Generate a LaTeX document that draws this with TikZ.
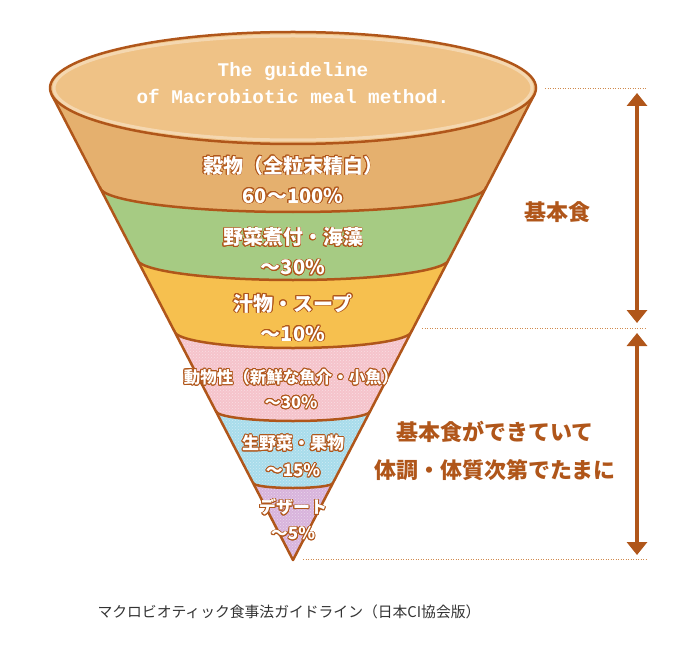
\documentclass[tikz,border=0pt]{standalone}
\usepackage{fontspec}
\setmainfont{Noto Sans CJK JP}
\newfontfamily\typefont{Liberation Mono}
\usepackage{contour}
\contourlength{0.9pt}
\usetikzlibrary{arrows.meta, patterns}

\definecolor{rimbrown}{HTML}{B0561A}
\definecolor{topfill}{HTML}{EFC286}
\definecolor{grainfill}{HTML}{E5B06E}
\definecolor{veggiefill}{HTML}{A6CB83}
\definecolor{soupfill}{HTML}{F6C04F}
\definecolor{animalfill}{HTML}{F5C3CB}
\definecolor{fruitfill}{HTML}{A8DCEB}
\definecolor{dessertfill}{HTML}{D8B4DC}
\definecolor{guidebrown}{HTML}{D08A4E}
\definecolor{captiongray}{HTML}{333333}

\newcommand{\rimtext}[1]{\contour{rimbrown}{#1}}

\tikzset{
  rim/.style={rimbrown, line width=2.5pt, line join=round, line cap=round},
  bandtext/.style={text=white, align=center, inner sep=0pt,
    font=\bfseries\fontsize{20}{30}\selectfont},
  smallband/.style={bandtext, font=\bfseries\fontsize{17}{26}\selectfont},
  titletext/.style={text=white, align=center, inner sep=0pt,
    font=\typefont\bfseries\fontsize{19.3}{27}\selectfont},
  sidetext/.style={text=rimbrown, inner sep=0pt, font=\bfseries\fontsize{22}{26}\selectfont},
  guide/.style={guidebrown, line width=0.8pt, dash pattern=on 1pt off 1.5pt},
  span/.style={rimbrown, line width=3.5pt,
    {Triangle[width=20pt, length=13pt]}-{Triangle[width=20pt, length=13pt]}},
  caption/.style={text=captiongray, inner sep=0pt, font=\fontsize{14.8}{18}\selectfont}
}

\begin{document}
\begin{tikzpicture}[x=1pt, y=-1pt]
  \useasboundingbox (0,0) rectangle (692,644);

  % cone
  \coordinate (rimleft) at (51.7,94.6);
  \coordinate (rimright) at (534.3,94.6);
  \coordinate (tip) at (293,560);
  \fill[grainfill] (rimleft) -- (tip) -- (rimright) -- cycle;
  \begin{scope}
    \clip (rimleft) -- (tip) -- (rimright) -- cycle;
    \foreach \ye/\ry/\col in {187/25/veggiefill, 259/21/soupfill, 331/17/animalfill, 411/10/fruitfill, 483/5/dessertfill}{
      \pgfmathsetmacro{\hw}{0.518*(560-\ye)}
      \fill[\col] (293-\hw,\ye) arc[start angle=180, end angle=360, x radius=\hw pt, y radius=\ry pt]
        -- ++(100,0) -- (650,600) -- (0,600) -- (0,\ye) -- cycle;
    }
    \pgfmathsetmacro{\hw}{0.518*(560-331)}
    \fill[pattern=crosshatch dots, pattern color=white, opacity=0.45] (293-\hw,331) arc[start angle=180, end angle=360, x radius=\hw pt, y radius=17pt]
      -- ++(100,0) -- (650,600) -- (0,600) -- (0,331) -- cycle;
    \foreach \ye/\ry in {187/25, 259/21, 331/17, 411/10, 483/5}{
      \pgfmathsetmacro{\hw}{0.518*(560-\ye)}
      \draw[rim] (293-\hw,\ye) arc[start angle=180, end angle=360, x radius=\hw pt, y radius=\ry pt];
    }
  \end{scope}
  \draw[rim] (rimleft) -- (tip) -- (rimright);

  % top of the funnel
  \filldraw[rim, fill=topfill] (293,88) ellipse [x radius=243pt, y radius=56pt];
  \draw[white, opacity=0.35, line width=3pt] (293,88) ellipse [x radius=239pt, y radius=52pt];
  \node[titletext] (title) at (293,83) {The guideline\\of Macrobiotic meal method.};

  % bands
  \node[bandtext] (grain) at (293,180) {\rimtext{穀物（全粒末精白）}\\\rimtext{60～100\%}};
  \node[bandtext] (veggie) at (293,252) {\rimtext{野菜煮付・海藻}\\\rimtext{～30\%}};
  \node[bandtext] (soup) at (293,318) {\rimtext{汁物・スープ}\\\rimtext{～10\%}};
  \node[smallband, font=\bfseries\fontsize{16.5}{25}\selectfont] (animal) at (291,389.5) {\rimtext{動物性（新鮮な魚介・小魚）}\\\rimtext{～30\%}};
  \node[smallband, font=\bfseries\fontsize{17}{27}\selectfont] (fruit) at (293,456.5) {\rimtext{生野菜・果物}\\\rimtext{～15\%}};
  \node[smallband] (dessert) at (293,520) {\rimtext{デザート}\\\rimtext{～5\%}};

  % right side
  \coordinate (rimguide) at (545,88);
  \coordinate (rimguideend) at (647,88);
  \coordinate (soupguide) at (422,328);
  \coordinate (soupguideend) at (647,328);
  \coordinate (tipguide) at (303,559);
  \coordinate (tipguideend) at (647,559);
  \draw[guide] (rimguide) -- (rimguideend);
  \draw[guide] (soupguide) -- (soupguideend);
  \draw[guide] (tipguide) -- (tipguideend);

  \coordinate (basetop) at (637,93);
  \coordinate (basebot) at (637,323);
  \coordinate (extratop) at (637,333);
  \coordinate (extrabot) at (637,555);
  \draw[span] (basetop) -- (basebot);
  \draw[span] (extratop) -- (extrabot);

  \node[sidetext] (basic) at (557,212) {基本食};
  \node[sidetext] (sometimes) at (495,432) {基本食ができていて};
  \node[sidetext] (bodytype) at (495,470) {体調・体質次第でたまに};

  \node[caption] (source) at (289,612) {マクロビオティック食事法ガイドライン（日本CI協会版）};
\end{tikzpicture}
\end{document}
